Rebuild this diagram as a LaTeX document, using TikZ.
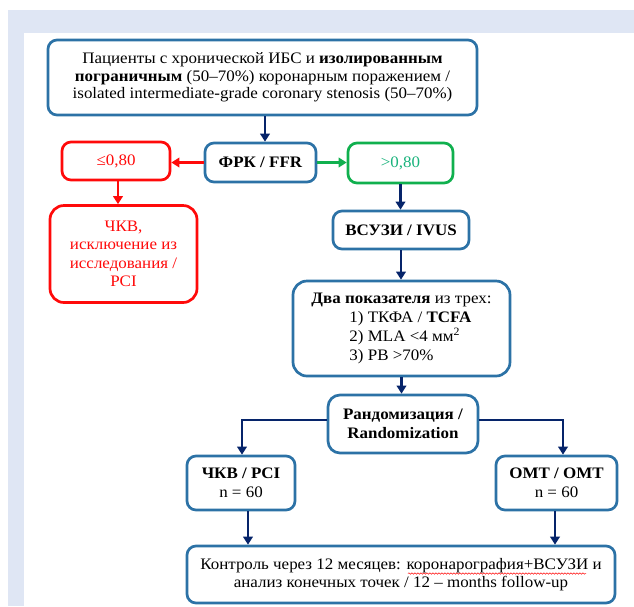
\documentclass[tikz,border=0pt]{standalone}
\usepackage{fontspec}
\setmainfont{Liberation Serif}[FakeStretch=1.06]
\usetikzlibrary{arrows.meta,calc,decorations.pathmorphing}
\definecolor{bandcol}{HTML}{DFE6F4}
\definecolor{boxblue}{HTML}{2C72A6}
\definecolor{navy}{HTML}{06246A}
\definecolor{myred}{HTML}{FF0A0A}
\definecolor{mygreen}{HTML}{10B04E}
\definecolor{greentext}{HTML}{19B37C}
\tikzset{
  box/.style={draw=boxblue, line width=2.7pt, rounded corners=9pt, fill=white,
    align=center, inner sep=0pt, font=\fontsize{16}{18.5}\selectfont},
  redbox/.style={box, draw=myred, text=myred},
  greenbox/.style={box, draw=mygreen, text=greentext},
  navyarrow/.style={draw=navy, line width=2.8pt, -{Triangle[length=8pt,width=9.5pt]}},
  redarrow/.style={draw=myred, line width=2.8pt, -{Triangle[length=8pt,width=9.5pt]}},
  greenarrow/.style={draw=mygreen, line width=2.8pt, -{Triangle[length=8pt,width=9.5pt]}},
  spellwave/.style={draw=myred, line width=0.5pt, decorate,
    decoration={snake,amplitude=0.7pt,segment length=3pt}},
}
\begin{document}
\begin{tikzpicture}[x=1pt,y=-1pt]
\useasboundingbox (0,0) rectangle (634,606);
\fill[bandcol] (8,10) rectangle (634,606);
\fill[white] (24,33) rectangle (634,606);

\node[box, minimum width=429pt, minimum height=75pt, font=\fontsize{16}{17.5}\selectfont] (top) at (262.5,77.5)
  {Пациенты с хронической ИБС и \textbf{изолированным}\\
   \textbf{пограничным} (50–70\%) коронарным поражением /\\
   isolated intermediate-grade coronary stenosis (50–70\%)};
\node[box, minimum width=111pt, minimum height=39pt] (ffr) at (260.5,162.5) {\textbf{ФРК / FFR}};
\node[redbox, minimum width=108pt, minimum height=38pt] (le) at (116,161) {≤0,80};
\node[greenbox, minimum width=105pt, minimum height=40pt] (gt) at (400.5,163) {>0,80};
\node[redbox, rounded corners=14pt, minimum width=147pt, minimum height=97pt] (pci0) at (123.5,254)
  {ЧКВ,\\исключение из\\исследования /\\PCI};
\node[box, minimum width=136pt, minimum height=38pt] (ivus) at (401,230) {\textbf{ВСУЗИ / IVUS}};
\node[box, rounded corners=14pt, minimum width=217pt, minimum height=95pt, align=left,
  font=\fontsize{16}{19}\selectfont] (two) at (401.5,328.5)
  {\textbf{Два показателя} из трех:\\
   \hspace*{38pt}1) ТКФА / \textbf{TCFA}\\
   \hspace*{38pt}2) MLA <4 мм\textsuperscript{2}\\
   \hspace*{38pt}3) PB >70\%};
\node[box, rounded corners=12pt, minimum width=150pt, minimum height=58pt] (rand) at (403,424)
  {\textbf{Рандомизация /}\\\textbf{Randomization}};
\node[box, minimum width=108pt, minimum height=54pt] (pci) at (241,483) {\textbf{ЧКВ / PCI}\\n = 60};
\node[box, minimum width=121pt, minimum height=54pt] (omt) at (556.5,483) {\textbf{ОМТ / ОМТ}\\n = 60};
\node[box, minimum width=428pt, minimum height=57pt] (fu) at (401,574.5)
  {Контроль через 12 месяцев: коронарография+ВСУЗИ и\\
   анализ конечных точек / 12 – months follow-up};
\draw[spellwave] ($(fu.center)+(7,-1)$) -- ($(fu.center)+(185,-1)$);

\draw[navyarrow] ([xshift=2.5pt]top.south) -- ([xshift=2.5pt]top.south |- ffr.north);
\draw[redarrow] (ffr.west) -- (ffr.west -| le.east);
\draw[greenarrow] (ffr.east) -- (ffr.east -| gt.west);
\draw[redarrow] ([xshift=2pt]le.south) -- ([xshift=2pt]le.south |- pci0.north);
\draw[navyarrow] (gt.south) -- (gt.south |- ivus.north);
\draw[navyarrow] (ivus.south) -- (ivus.south |- two.north);
\draw[navyarrow] (two.south) -- (two.south |- rand.north);
\draw[navyarrow] ([yshift=4pt]rand.west) -| ([xshift=1pt]pci.north);
\draw[navyarrow] ([yshift=4pt]rand.east) -| ([xshift=6.5pt]omt.north);
\draw[navyarrow] ([xshift=7pt]pci.south) -- ([xshift=7pt]pci.south |- fu.north);
\draw[navyarrow] ([xshift=-1.5pt]omt.south) -- ([xshift=-1.5pt]omt.south |- fu.north);
\end{tikzpicture}
\end{document}
